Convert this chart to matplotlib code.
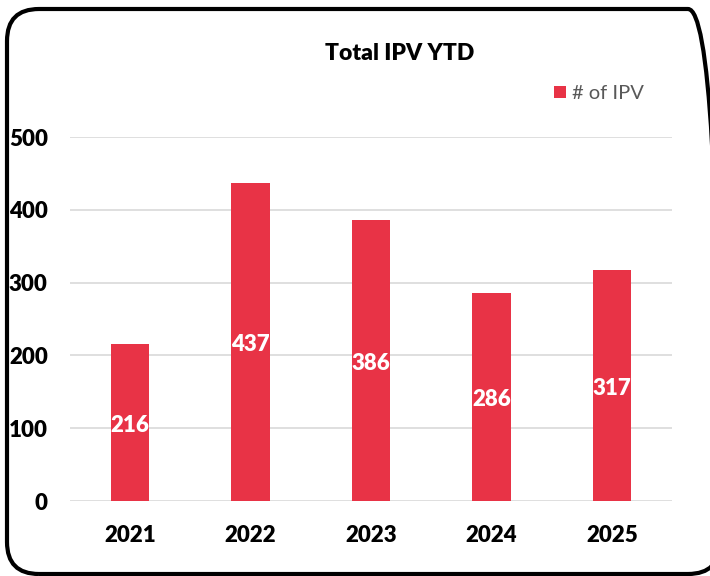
import matplotlib.pyplot as plt
from matplotlib.patches import FancyBboxPatch
from matplotlib.transforms import IdentityTransform

years = ['2021', '2022', '2023', '2024', '2025']
ipv = [216, 437, 386, 286, 317]
yticks = [0, 100, 200, 300, 400, 500]

plt.rcParams['font.family'] = ['Lato', 'DejaVu Sans']
red = '#E83346'

fig = plt.figure(figsize=(7.1, 5.76), dpi=100)
ax = fig.add_axes([70/710, 1-501/576, 602/710, 364/576])

bars = ax.bar(years, ipv, width=0.32, color=red, zorder=3, label='# of IPV')
for b, v in zip(bars, ipv):
    ax.annotate(str(v), (b.get_x() + b.get_width()/2, v/2), xytext=(0, -2),
                textcoords='offset points', ha='center', va='center',
                color='white', fontsize=16, fontweight='heavy', zorder=4)

ax.set_ylim(0, 500)
ax.set_xlim(-0.5, 4.5)
ax.set_yticks(yticks)
ax.grid(axis='y', color='#D9D9D9', linewidth=1.2, zorder=0)
for s in ax.spines.values():
    s.set_visible(False)
ax.tick_params(length=0)
ax.tick_params(axis='y', pad=16)
ax.tick_params(axis='x', pad=17)
for lab in ax.get_xticklabels() + ax.get_yticklabels():
    lab.set_fontsize(16)
    lab.set_fontweight('heavy')

fig.text(400/710, 1-53/576, 'Total IPV YTD', ha='center', va='center',
         fontsize=16.5, fontweight='heavy')
ax.legend(loc='upper right', bbox_to_anchor=(662/710, 1-67/576), bbox_transform=fig.transFigure,
          frameon=False, fontsize=14.5, handlelength=0.6, handleheight=0.6,
          handletextpad=0.3, labelcolor='#595959')

# rounded frame, drawn in pixels; right edge runs off the image like the original
border = FancyBboxPatch((7, 2), 713, 565,
                        boxstyle='round,pad=0,rounding_size=32',
                        transform=IdentityTransform(), fill=False, edgecolor='black',
                        linewidth=3, clip_on=False)
fig.patches.append(border)

fig.savefig('out.png', dpi=100, facecolor='white')
